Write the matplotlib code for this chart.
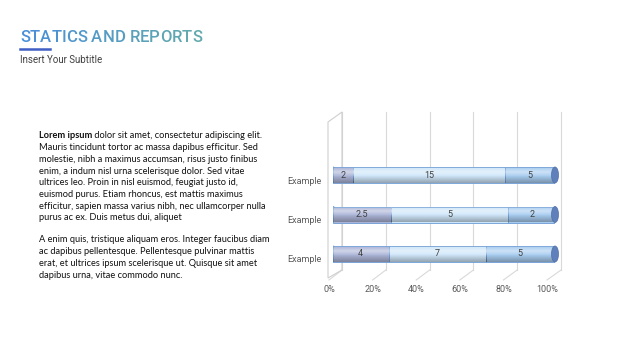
import numpy as np
import matplotlib.pyplot as plt
from matplotlib.patches import Ellipse, Polygon
from matplotlib.colors import to_rgb

# ---- data -------------------------------------------------------------------
categories = ["Example", "Example", "Example"]          # bottom -> top
series_a = [4, 2.5, 2]
series_b = [7, 5, 15]
series_c = [5, 2, 5]
tick_vals = [0, 0.2, 0.4, 0.6, 0.8, 1.0]
tick_labels = ["0%", "20%", "40%", "60%", "80%", "100%"]

title = "STATICS AND REPORTS"
subtitle = "Insert Your Subtitle"
para1_bold = "Lorem ipsum"
para1 = [
    " dolor sit amet, consectetur adipiscing elit.",
    "Mauris tincidunt tortor ac massa dapibus efficitur. Sed",
    "molestie, nibh a maximus accumsan, risus justo finibus",
    "enim, a indum nisl urna scelerisque dolor. Sed vitae",
    "ultrices leo. Proin in nisl euismod, feugiat justo id,",
    "euismod purus. Etiam rhoncus, est mattis maximus",
    "efficitur, sapien massa varius nibh, nec ullamcorper nulla",
    "purus ac ex. Duis metus dui, aliquet",
]
para2 = [
    "A enim quis, tristique aliquam eros. Integer faucibus diam",
    "ac dapibus pellentesque. Pellentesque pulvinar mattis",
    "erat, et ultrices ipsum scelerisque ut. Quisque sit amet",
    "dapibus urna, vitae commodo nunc.",
]

colors = ["#aab3d6", "#cde5f8", "#a6cbef"]
edge = "#6c9bd4"
cap = "#5f80bb"
grid_c = "#d9d9d9"
W, H = 640, 360

fig = plt.figure(figsize=(6.4, 3.6), dpi=100)
fig.patch.set_facecolor("white")

def fx(px):
    return px / W

def fy(py):
    return 1 - py / H

# ---- header -----------------------------------------------------------------
c0, c1 = np.array(to_rgb("#4a8fd8")), np.array(to_rgb("#62a9ad"))
renderer = fig.canvas.get_renderer()
x = fx(20)
for i, ch in enumerate(title):
    col = c0 + (c1 - c0) * i / (len(title) - 1)
    t = fig.text(x, fy(38), ch, fontsize=12, family="Roboto", weight="medium",
                 color=col, va="center", ha="left")
    bb = t.get_window_extent(renderer)
    x = fx(bb.x1)
fig.add_artist(plt.Line2D([fx(20), fx(50)], [fy(49), fy(49)], color="#3f5fc4", lw=1.8))
fig.text(fx(20), fy(60), subtitle, fontsize=7, family="Roboto", color="#404040",
         va="center", ha="left")

# ---- paragraph text -----------------------------------------------------------
fam = ["Lato", "DejaVu Sans"]
fs = 6.65
lh = 11.7
y0 = 136
tb = fig.text(fx(39), fy(y0), para1_bold, fontsize=fs, family=fam, weight="bold",
              color="#111111", va="center", ha="left")
bx = tb.get_window_extent(renderer).x1
fig.text(bx / W, fy(y0), para1[0], fontsize=fs, family=fam, color="#111111",
         va="center", ha="left")
for i, line in enumerate(para1[1:], start=1):
    fig.text(fx(39), fy(y0 + i * lh), line, fontsize=fs, family=fam,
             color="#111111", va="center", ha="left")
y2 = 240
for i, line in enumerate(para2):
    fig.text(fx(39), fy(y2 + i * lh), line, fontsize=fs, family=fam,
             color="#111111", va="center", ha="left")

# ---- chart --------------------------------------------------------------------
ax = fig.add_axes([fx(333), fy(278), (555 - 333) / W, (278 - 112) / H])
ppy = 39.5                      # pixels per category unit
ylo = -(278 - 254) / ppy
yhi = 2 + (175 - 112) / ppy
ax.set_xlim(0, 1)
ax.set_ylim(ylo, yhi)
ax.axis("off")

def dx(px):
    return (px - 333) / 222

def dy(py):
    return ylo + (278 - py) / ppy

# walls and grid (3d look)
for t, lab in zip(tick_vals, tick_labels):
    xb = dx(342) + t * (dx(561) - dx(342))
    xf = dx(329) + t * (dx(547) - dx(329))
    ax.plot([xb, xb], [dy(270), dy(112)], color=grid_c, lw=0.8, clip_on=False, zorder=0)
    ax.plot([xf, xb], [dy(280), dy(270)], color=grid_c, lw=0.8, clip_on=False, zorder=0)
    ax.text(xf, dy(289), lab, fontsize=6.5, family="Roboto", color="#595959",
            ha="center", va="center")
wall = Polygon([[dx(328), dy(278)], [dx(328), dy(122)], [dx(342), dy(112)],
                [dx(342), dy(270)]], closed=True, fill=False, edgecolor="#cfcfcf",
               lw=0.8, clip_on=False, zorder=0)
ax.add_patch(wall)

vals = np.array([series_a, series_b, series_c], dtype=float)
share = vals / vals.sum(axis=0)
ypos = np.arange(len(categories))
bh = 16 / ppy
cw = 7 / 222

# vertical shading for the cylinders: light top, dark bottom
g = np.linspace(0, 1, 64)
shade = np.zeros((64, 1, 4))
hi = np.clip(1 - np.abs(g - 0.7) / 0.3, 0, 1)        # highlight near top
lo = np.clip((0.45 - g) / 0.45, 0, 1)                # shadow towards bottom
shade[:, 0, :3] = np.where(hi[:, None] >= lo[:, None], 1.0, 0.15)
shade[:, 0, 3] = np.maximum(hi * 0.45, lo * 0.35)

# rounded left end
for y in ypos:
    ax.add_patch(Ellipse((0, y), cw, bh, facecolor=colors[0], edgecolor=edge,
                         lw=0.6, zorder=2))

left = np.zeros(len(categories))
for k in range(3):
    ax.barh(ypos, share[k], left=left, height=bh, color=colors[k],
            edgecolor=edge, lw=0.6, zorder=3)
    for y, l, s, v in zip(ypos, left, share[k], vals[k]):
        ax.imshow(shade, extent=[l, l + s, y - bh / 2, y + bh / 2], origin="lower",
                  aspect="auto", interpolation="bilinear", zorder=4)
        ax.text(l + s / 2, y, f"{v:g}", fontsize=6.5, family="Roboto",
                color="#404040", ha="center", va="center", zorder=6)
    left = left + share[k]
ax.set_xlim(0, 1)
ax.set_ylim(ylo, yhi)

for y in ypos:
    ax.add_patch(Ellipse((1, y), cw, bh, facecolor=cap, edgecolor="#4f6fa8",
                         lw=0.5, zorder=5, clip_on=False))

for y, name in zip(ypos, categories):
    ax.text(dx(322), y - 6 / ppy, name, fontsize=6.5, family="Roboto",
            color="#595959", ha="right", va="center")

fig.savefig("out.png", dpi=100)
